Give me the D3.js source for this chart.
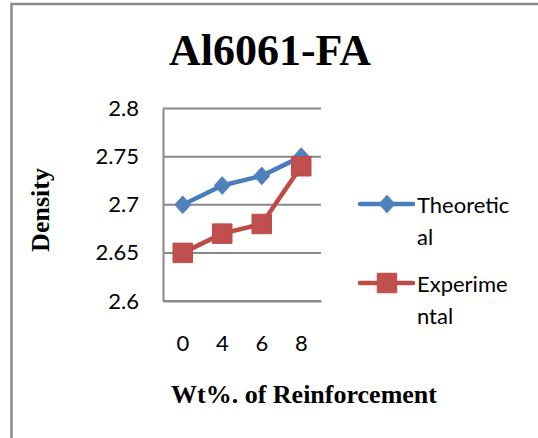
<!DOCTYPE html>
<html>
<head>
<meta charset="utf-8">
<script src="https://cdn.jsdelivr.net/npm/d3@7"></script>
<style>
  html, body { margin: 0; padding: 0; background: #fff; }
  svg { display: block; }
</style>
</head>
<body>
<svg id="chart" width="538" height="438"></svg>
<script>
// Density of Al6061 reinforced with fly ash
const categories = ["0", "4", "6", "8"];
const theoretical = [2.70, 2.72, 2.73, 2.75];
const experimental = [2.65, 2.67, 2.68, 2.74];
const yTicks = [2.6, 2.65, 2.7, 2.75, 2.8];
const seriesNames = ["Theoretical", "Experimental"];
const legendLines = [["Theoretic", "al"], ["Experime", "ntal"]];

const svg = d3.select("#chart");
const W = 538, H = 438;
const plot = { left: 163, right: 321, top: 108.5, bottom: 301 };
const labelFont = "Lato, 'Open Sans', sans-serif";
const serifFont = "'Liberation Serif', 'Times New Roman', serif";

// Outer chart frame (continues past the right and bottom edges)
svg.append("rect")
  .attr("x", 11.5).attr("y", 4)
  .attr("width", W + 20).attr("height", H + 20)
  .attr("fill", "#fff")
  .attr("stroke", "#8a8a8a").attr("stroke-width", 2.5);

const x = d3.scaleBand().domain(categories).range([plot.left, plot.right]);
const y = d3.scaleLinear().domain([2.6, 2.8]).range([plot.bottom, plot.top]);

// Horizontal gridlines
svg.append("g").selectAll("line").data(yTicks).join("line")
  .attr("x1", plot.left).attr("x2", plot.right)
  .attr("y1", d => y(d)).attr("y2", d => y(d))
  .attr("stroke", "#888").attr("stroke-width", 2);

// Y axis
const yAxis = svg.append("g")
  .attr("transform", `translate(${plot.left},0)`)
  .call(d3.axisLeft(y).tickValues(yTicks).tickSize(0).tickPadding(24)
    .tickFormat(d => String(+d.toFixed(2))));
yAxis.select(".domain").attr("stroke", "#888").attr("stroke-width", 2);
yAxis.selectAll("text")
  .attr("font-family", labelFont).attr("font-size", 22).attr("fill", "#000");

// X axis
const xAxis = svg.append("g")
  .attr("transform", `translate(0,${plot.bottom})`)
  .call(d3.axisBottom(x).tickSize(0).tickPadding(34));
xAxis.select(".domain").attr("stroke", "#888").attr("stroke-width", 2);
xAxis.selectAll("text")
  .attr("font-family", labelFont).attr("font-size", 22).attr("fill", "#000");

const cx = d => x(d) + x.bandwidth() / 2;
const line = d3.line().x(d => cx(d.c)).y(d => y(d.v));

const theoData = categories.map((c, i) => ({ c, v: theoretical[i] }));
const expData = categories.map((c, i) => ({ c, v: experimental[i] }));

const blueLine = "#4a7ebb", blueFill = "#4f81bd";
const redLine = "#be4b48", redFill = "#c0504d";

svg.append("path").datum(theoData)
  .attr("d", line).attr("fill", "none")
  .attr("stroke", blueLine).attr("stroke-width", 4.5).attr("stroke-linejoin", "round");
svg.append("path").datum(expData)
  .attr("d", line).attr("fill", "none")
  .attr("stroke", redLine).attr("stroke-width", 4.5).attr("stroke-linejoin", "round");

const diamond = d3.symbol().type(d3.symbolDiamond2).size(200);
const square = d3.symbol().type(d3.symbolSquare).size(380);

svg.append("g").selectAll("path").data(theoData).join("path")
  .attr("d", diamond)
  .attr("transform", d => `translate(${cx(d.c)},${y(d.v)}) scale(0.9,1)`)
  .attr("fill", blueFill).attr("stroke", blueLine).attr("stroke-width", 1);
svg.append("g").selectAll("path").data(expData).join("path")
  .attr("d", square)
  .attr("transform", d => `translate(${cx(d.c)},${y(d.v)})`)
  .attr("fill", redFill).attr("stroke", redLine).attr("stroke-width", 1);

// Title
svg.append("text")
  .attr("x", 270).attr("y", 65)
  .attr("text-anchor", "middle")
  .attr("font-family", serifFont).attr("font-weight", "bold")
  .attr("font-size", 44).attr("fill", "#000")
  .text("Al6061-FA");

// Axis titles
svg.append("text")
  .attr("transform", "translate(49,210) rotate(-90)")
  .attr("text-anchor", "middle")
  .attr("font-family", serifFont).attr("font-weight", "bold")
  .attr("font-size", 26).attr("fill", "#000")
  .text("Density");

svg.append("text")
  .attr("x", 304).attr("y", 403)
  .attr("text-anchor", "middle")
  .attr("font-family", serifFont).attr("font-weight", "bold")
  .attr("font-size", 26).attr("fill", "#000")
  .text("Wt%. of Reinforcement");

// Legend
const legend = svg.append("g");
const legendY = [204, 283];
const legendMarks = [
  { sym: diamond, line: blueLine, fill: blueFill, sx: 0.9 },
  { sym: square, line: redLine, fill: redFill, sx: 1 }
];
seriesNames.forEach((name, i) => {
  const g = legend.append("g").attr("transform", `translate(0,${legendY[i]})`);
  g.append("line").attr("x1", 360).attr("x2", 413).attr("y1", 0).attr("y2", 0)
    .attr("stroke", legendMarks[i].line).attr("stroke-width", 4.5).attr("stroke-linecap", "round");
  g.append("path").attr("d", legendMarks[i].sym)
    .attr("transform", `translate(387,0) scale(${legendMarks[i].sx},1)`)
    .attr("fill", legendMarks[i].fill).attr("stroke", legendMarks[i].line);
  const t = g.append("text")
    .attr("font-family", labelFont).attr("font-size", 22).attr("fill", "#000");
  legendLines[i].forEach((s, k) => {
    t.append("tspan").attr("x", 417).attr("y", 9 + k * 32).text(s);
  });
});
</script>
</body>
</html>
